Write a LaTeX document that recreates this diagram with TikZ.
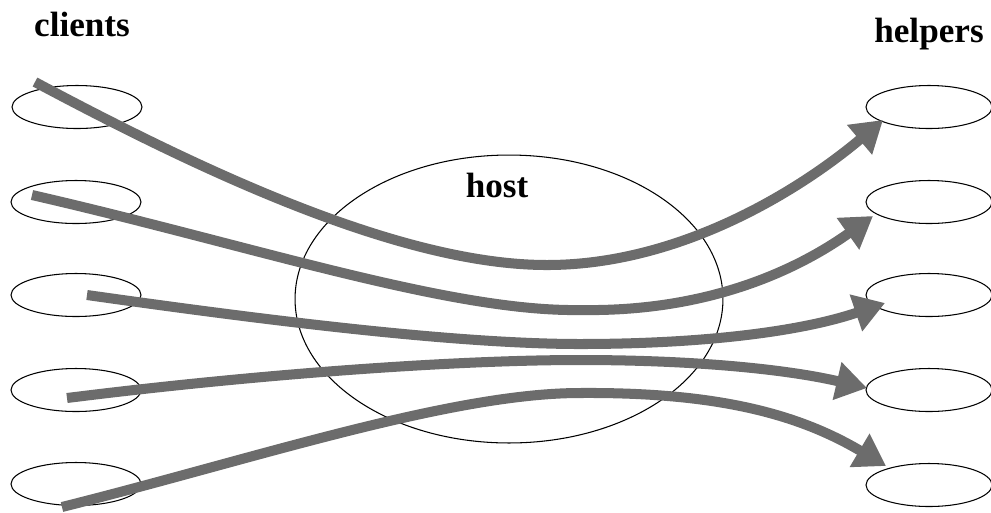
\documentclass[tikz,border=0pt]{standalone}
\usepackage{fontspec}
\setmainfont{Liberation Serif}
\usetikzlibrary{shapes.geometric,arrows.meta}
\definecolor{flowgray}{RGB}{108,108,108}
\tikzset{
  peer/.style={ellipse,draw=black,line width=0.6pt,fill=white,inner sep=0pt,minimum height=0.86cm},
  client/.style={peer,minimum width=2.6cm},
  helper/.style={peer,minimum width=2.52cm},
  hostnode/.style={ellipse,draw=black,line width=0.6pt,inner sep=0pt,minimum width=8.56cm,minimum height=5.76cm},
  lbl/.style={anchor=base,inner sep=0pt,font=\fontsize{20pt}{24pt}\selectfont\bfseries},
  flow/.style={draw=flowgray,line width=5.7pt,line cap=butt,-{Triangle[length=17.5pt,width=21pt]}}
}
\begin{document}
\begin{tikzpicture}[x=0.02cm,y=-0.02cm]
\useasboundingbox (0,0) rectangle (991,512);
% host
\node[hostnode] (host) at (509,299) {};
\node[lbl] (hostlbl) at (497,197) {host};
% labels
\node[lbl] (clientslbl) at (82,36) {clients};
\node[lbl] (helperslbl) at (929,42) {helpers};
% clients
\node[client] (c1) at (77,107) {};
\node[client] (c2) at (76,202) {};
\node[client] (c3) at (76,295) {};
\node[client] (c4) at (76,390) {};
\node[client] (c5) at (76,484) {};
% helpers
\node[helper] (h1) at (929,107) {};
\node[helper] (h2) at (929,202) {};
\node[helper] (h3) at (929,295) {};
\node[helper] (h4) at (929,390) {};
\node[helper] (h5) at (929,485) {};
% start and end points
\coordinate (s1) at (35,82);
\coordinate (s2) at (32,195);
\coordinate (s3) at (87,295);
\coordinate (s4) at (67,398);
\coordinate (s5) at (62,507);
\coordinate (e1) at (883,120);
\coordinate (e2) at (873,216);
\coordinate (e3) at (885,303);
\coordinate (e4) at (867,388);
\coordinate (e5) at (886,466);
\coordinate (m1) at (547,265);
\coordinate (m2) at (580,310);
\coordinate (m3) at (580,344);
\coordinate (m4) at (580,360);
\coordinate (m5) at (580,393);
% flows
\draw[flow] (s1) .. controls (200,170) and (400,265) .. (m1) .. controls (680,265) and (800,190) .. (e1);
\draw[flow] (s2) .. controls (250,245) and (450,312) .. (m2) .. controls (700,312) and (790,275) .. (e2);
\draw[flow] (s3) .. controls (250,318) and (450,344) .. (m3) .. controls (700,344) and (800,332) .. (e3);
\draw[flow] (s4) .. controls (250,375) and (450,360) .. (m4) .. controls (700,360) and (790,370) .. (e4);
\draw[flow] (s5) .. controls (250,460) and (450,393) .. (m5) .. controls (720,392) and (800,415) .. (e5);
\end{tikzpicture}
\end{document}
